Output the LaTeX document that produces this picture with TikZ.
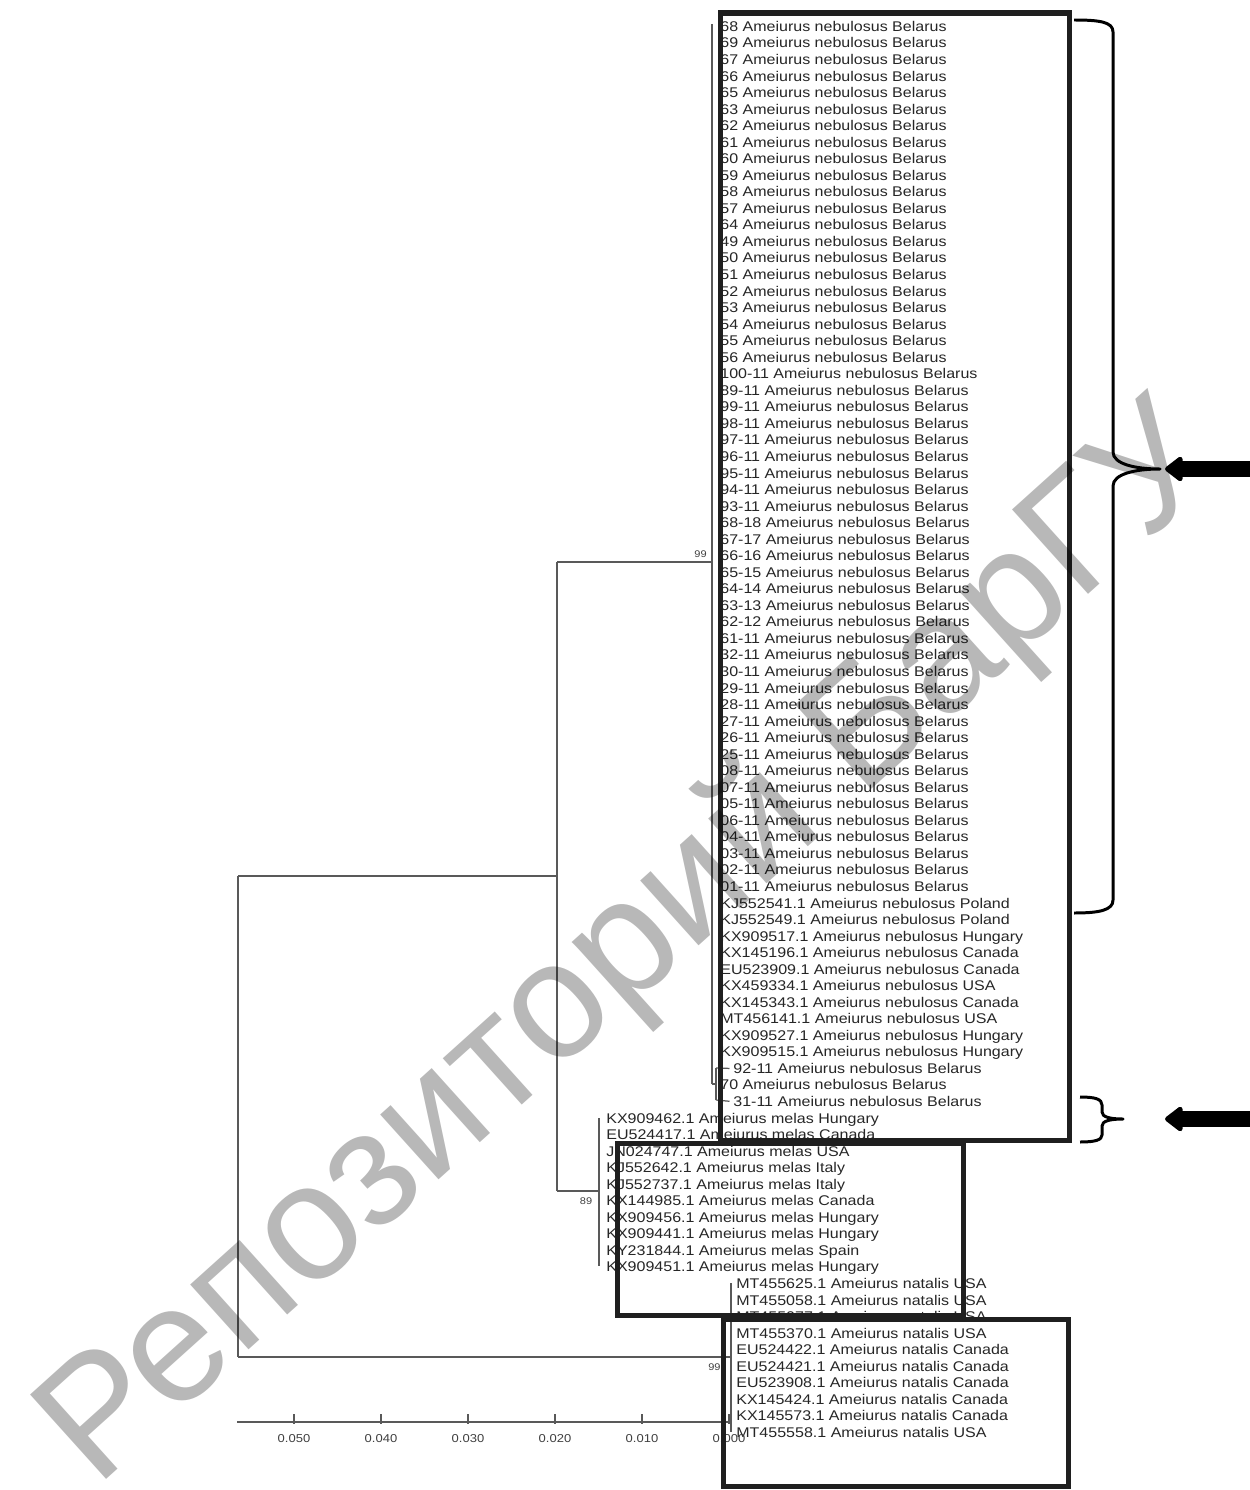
\documentclass[tikz,border=0pt]{standalone}
\usepackage{fontspec}
\usetikzlibrary{arrows.meta}
\newfontfamily\treefont[FakeStretch=1.14]{Liberation Sans}
\newfontfamily\markfont{Liberation Sans}

\begin{document}
\begin{tikzpicture}[x=0.02cm, y=-0.02cm,
    leaf/.style={anchor=west, inner sep=0pt, text height=6pt, text depth=0.4pt,
      font=\treefont\fontsize{8}{8}\selectfont, text=black!85},
    treeline/.style={draw=black!65, line width=0.7pt},
    support/.style={inner sep=0pt, font=\treefont\fontsize{5.5}{5.5}\selectfont, text=black!75},
    scalelabel/.style={inner sep=0pt, font=\treefont\fontsize{6.5}{6.5}\selectfont, text=black!75},
    clusterbox/.style={draw=black!88, line width=2.85pt},
    bracepath/.style={draw=black, line width=1.7pt, line join=round},
    bigarrow/.style={line width=9pt, -{Triangle[length=11pt, width=16pt, round]}}]
        \useasboundingbox (0,0) rectangle (1249,1490);

        % Define leaves of the nebulosus clade
        \foreach \lab [count=\i] in {68,69,67,66,65,63,62,61,60,59,58,57,64,49,50,51,52,53,54,55,56,
            100-11,89-11,99-11,98-11,97-11,96-11,95-11,94-11,93-11,68-18,67-17,66-16,65-15,64-14,
            63-13,62-12,61-11,32-11,30-11,29-11,28-11,27-11,26-11,25-11,08-11,07-11,05-11,06-11,
            04-11,03-11,02-11,01-11}
            \node[leaf] (neb\i) at (720,{26.5+16.54*(\i-1)}) {\lab\ Ameiurus nebulosus Belarus};
        \foreach \lab [count=\i from 54] in {KJ552541.1 Ameiurus nebulosus Poland,
            KJ552549.1 Ameiurus nebulosus Poland, KX909517.1 Ameiurus nebulosus Hungary,
            KX145196.1 Ameiurus nebulosus Canada, EU523909.1 Ameiurus nebulosus Canada,
            KX459334.1 Ameiurus nebulosus USA, KX145343.1 Ameiurus nebulosus Canada,
            MT456141.1 Ameiurus nebulosus USA, KX909527.1 Ameiurus nebulosus Hungary,
            KX909515.1 Ameiurus nebulosus Hungary}
            \node[leaf] (neb\i) at (720,{26.5+16.54*(\i-1)}) {\lab};
        \node[leaf] (neb64) at (733,{26.5+16.54*63}) {92-11 Ameiurus nebulosus Belarus};
        \node[leaf] (neb65) at (720,{26.5+16.54*64}) {70 Ameiurus nebulosus Belarus};
        \node[leaf] (neb66) at (733,{26.5+16.54*65}) {31-11 Ameiurus nebulosus Belarus};

        % Define leaves of the melas clade
        \foreach \lab [count=\i from 67] in {KX909462.1 Ameiurus melas Hungary,
            EU524417.1 Ameiurus melas Canada, JN024747.1 Ameiurus melas USA,
            KJ552642.1 Ameiurus melas Italy, KJ552737.1 Ameiurus melas Italy,
            KX144985.1 Ameiurus melas Canada, KX909456.1 Ameiurus melas Hungary,
            KX909441.1 Ameiurus melas Hungary, KY231844.1 Ameiurus melas Spain,
            KX909451.1 Ameiurus melas Hungary}
            \node[leaf] (mel\i) at (606,{26.5+16.54*(\i-1)}) {\lab};

        % Define leaves of the natalis clade
        \foreach \lab [count=\i from 77] in {MT455625.1 Ameiurus natalis USA,
            MT455058.1 Ameiurus natalis USA, MT455077.1 Ameiurus natalis USA,
            MT455370.1 Ameiurus natalis USA, EU524422.1 Ameiurus natalis Canada,
            EU524421.1 Ameiurus natalis Canada, EU523908.1 Ameiurus natalis Canada,
            KX145424.1 Ameiurus natalis Canada, KX145573.1 Ameiurus natalis Canada,
            MT455558.1 Ameiurus natalis USA}
            \node[leaf] (nat\i) at (736,{26.5+16.54*(\i-1)}) {\lab};

        % Tree junctions
        \coordinate (rootT) at (238,876);
        \coordinate (rootB) at (238,1357);
        \coordinate (a) at (557,876);
        \coordinate (aT) at (557,562);
        \coordinate (aB) at (557,1191);
        \coordinate (nebJ) at (712,562);
        \coordinate (nebT) at (712,24);
        \coordinate (nebB) at (712,1084);
        \coordinate (subJ) at (716,1084);
        \coordinate (subT) at (716,1068);
        \coordinate (subB) at (716,1100);
        \coordinate (melJ) at (599,1191);
        \coordinate (melT) at (599,1118);
        \coordinate (melB) at (599,1266);
        \coordinate (natJ) at (731,1357);
        \coordinate (natT) at (731,1283);
        \coordinate (natB) at (731,1432);

        % Branches
        \draw[treeline] (rootT) -- (rootB);
        \draw[treeline] (rootT) -- (a);
        \draw[treeline] (aT) -- (aB);
        \draw[treeline] (aT) -- (nebJ);
        \draw[treeline] (nebT) -- (nebB);
        \draw[treeline] (nebB) -- (subJ);
        \draw[treeline] (subT) -- (subB);
        \draw[treeline, shorten >=2pt] (subT) -- (neb64.west);
        \draw[treeline, shorten >=2pt] (subB) -- (neb66.west);
        \draw[treeline] (aB) -- (melJ);
        \draw[treeline] (melT) -- (melB);
        \draw[treeline] (rootB) -- (natJ);
        \draw[treeline] (natT) -- (natB);

        % Bootstrap values
        \node[support, anchor=south east] (bNeb) at (707,558) {99};
        \node[support, anchor=north] (bMel) at (586,1197) {89};
        \node[support, anchor=north west] (bNat) at (708,1363) {99};

        % Scale axis
        \coordinate (axL) at (237,1422);
        \coordinate (axR) at (729,1422);
        \draw[treeline] (axL) -- (axR);
        \foreach \k in {0,...,5} {
            \draw[treeline] ({729-87*\k},1414) -- ({729-87*\k},1424);
            \node[scalelabel] (tick\k) at ({729-87*\k},1439) {0.0\k0};
        }

        % Cluster boxes
        \draw[clusterbox] (720,13) rectangle (1069,1140);
        \draw[clusterbox] (617,1143) rectangle (963,1315);
        \draw[clusterbox] (723,1319) rectangle (1068,1486);

        % Braces
        \coordinate (braceTipA) at (1160,469);
        \coordinate (braceTipB) at (1123,1119);
        \draw[bracepath] (1074,20) .. controls (1100,20) and (1113,22) .. (1113,32)
            -- (1113,452) .. controls (1113,464) and (1135,469) .. (braceTipA)
            .. controls (1135,469) and (1113,474) .. (1113,486)
            -- (1113,900) .. controls (1113,910) and (1100,913) .. (1074,913);
        \draw[bracepath] (1080,1097) .. controls (1095,1097) and (1102,1099) .. (1102,1105)
            -- (1102,1112) .. controls (1102,1117) and (1110,1119) .. (braceTipB)
            .. controls (1110,1119) and (1102,1121) .. (1102,1126)
            -- (1102,1135) .. controls (1102,1140) and (1095,1142) .. (1080,1142);

        % Pointers
        \coordinate (tailA) at (1252,469);
        \coordinate (tipA) at (1165,469);
        \coordinate (tailB) at (1252,1119);
        \coordinate (tipB) at (1165,1119);
        \draw[bigarrow] (tailA) -- (tipA);
        \draw[bigarrow] (tailB) -- (tipB);

        % Watermark
        \node[rotate=42, text=black, text opacity=0.28, inner sep=0pt,
            font=\markfont\fontsize{94}{94}\selectfont] (mark) at (630,948) {Репозиторий БарГУ};
    \end{tikzpicture}
\end{document}
